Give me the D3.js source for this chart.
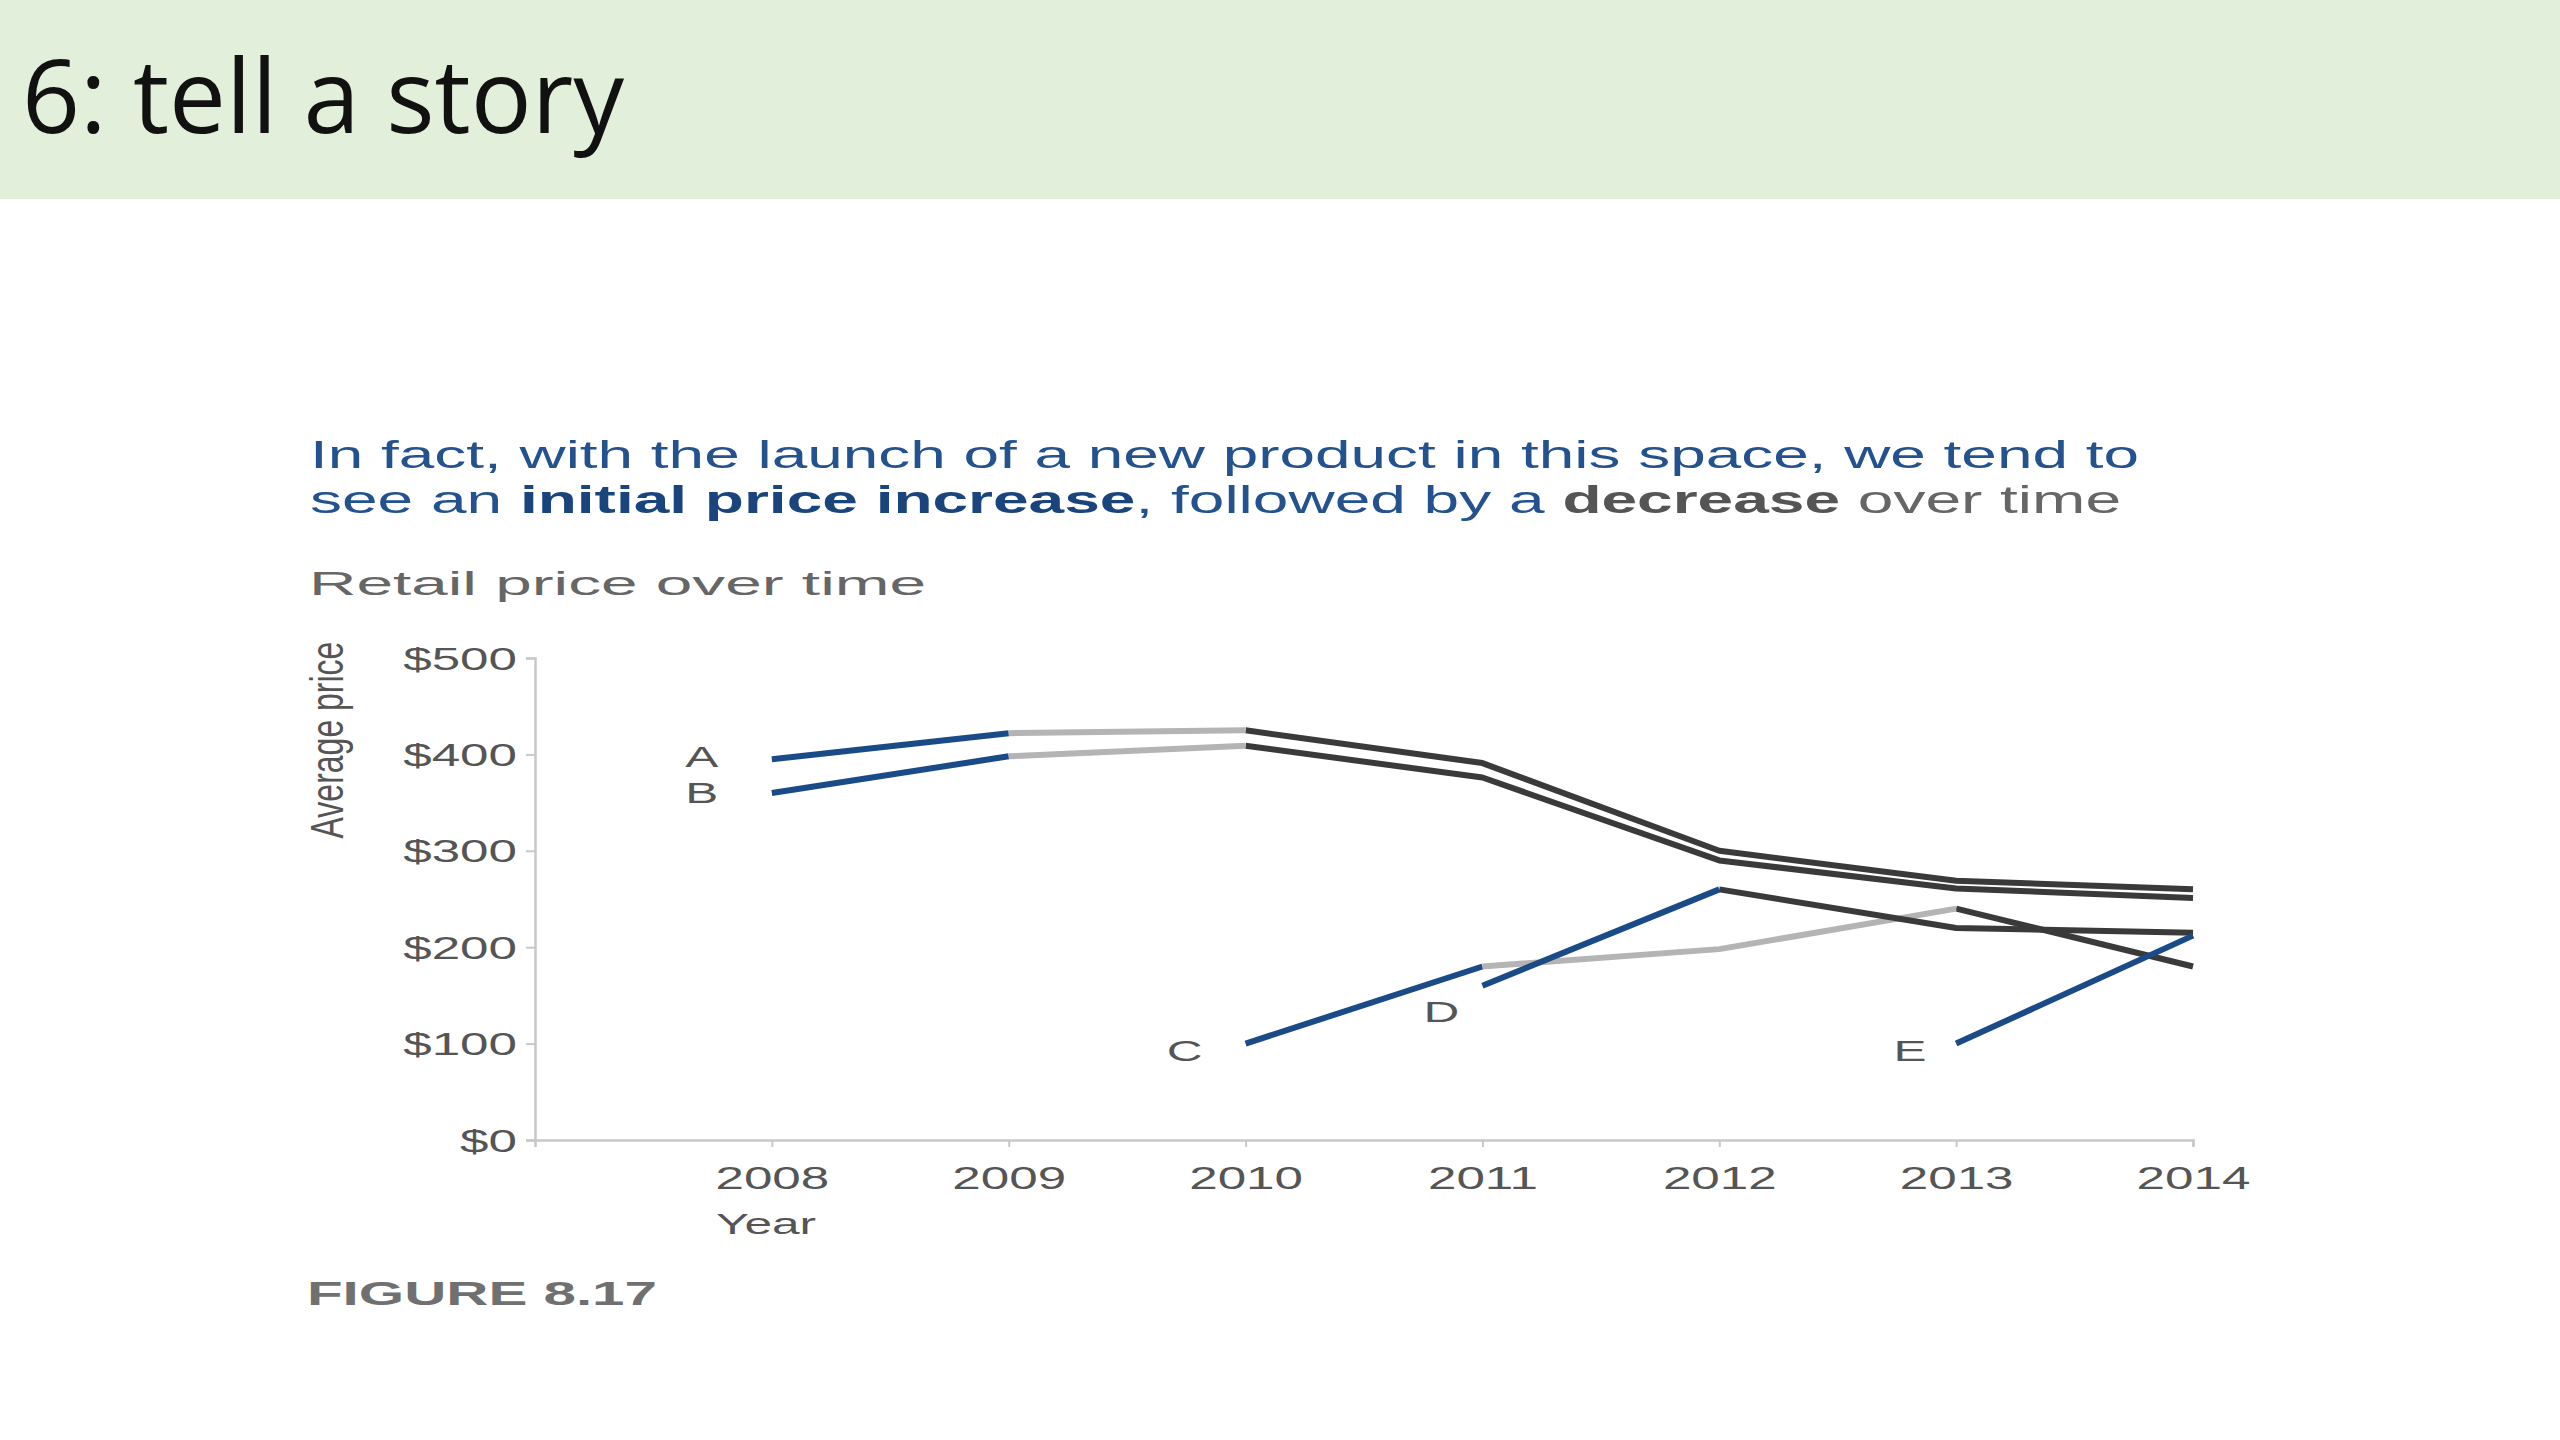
<!DOCTYPE html>
<html>
<head>
<meta charset="utf-8">
<script src="https://cdn.jsdelivr.net/npm/d3@7"></script>
<style>
  body { margin: 0; background: #fff; }
  svg { display: block; }
  text { font-family: "Liberation Sans", Arial, sans-serif; }
</style>
</head>
<body>
<script>
  // ---- data ----
  const years = [2008, 2009, 2010, 2011, 2012, 2013, 2014];
  const products = ['A', 'B', 'C', 'D', 'E'];

  const priceA = [395, 422, 425, 391, 300, 269, 260];
  const priceB = [360, 398, 409, 376, 290, 261, 251];
  const priceC = [null, null, 100, 180, 198, 240, 180];
  const priceD = [null, null, null, 160, 260, 220, 215];
  const priceE = [null, null, null, null, null, 100, 212];

  // phase of each year-to-year segment
  const phaseA = ['up', 'peak', 'down', 'down', 'down', 'down'];
  const phaseB = ['up', 'peak', 'down', 'down', 'down', 'down'];
  const phaseC = [null, null, 'up', 'peak', 'peak', 'down'];
  const phaseD = [null, null, null, 'up', 'down', 'down'];
  const phaseE = [null, null, null, null, null, 'up'];

  const yTicks = [0, 100, 200, 300, 400, 500];

  const prices = { A: priceA, B: priceB, C: priceC, D: priceD, E: priceE };
  const phases = { A: phaseA, B: phaseB, C: phaseC, D: phaseD, E: phaseE };

  // ---- styling ----
  const W = 2560, H = 1440;
  const STRETCH = 1.65; // the figure's type is drawn wide
  const colors = { up: '#1b4b86', peak: '#b4b4b4', down: '#3a3a3a' };
  const labelOffset = { A: [-70, -3], B: [-70, -1], C: [-61, 7], D: [-41, 25], E: [-46, 7] };

  const svg = d3.select('body').append('svg').attr('width', W).attr('height', H);

  function widen(sel, k) {
    sel.each(function () {
      const w = this.getComputedTextLength();
      d3.select(this).attr('textLength', w * k).attr('lengthAdjust', 'spacingAndGlyphs');
    });
  }

  // slide header
  svg.append('rect').attr('width', W).attr('height', 199).attr('fill', '#e2efda');
  svg.append('text').attr('x', 22).attr('y', 133)
    .style('font-family', '"Open Sans", "Noto Sans", sans-serif')
    .attr('font-size', 102).attr('fill', '#111')
    .attr('textLength', 602).attr('lengthAdjust', 'spacingAndGlyphs')
    .text('6: tell a story');

  // headline
  svg.append('text').attr('x', 310).attr('y', 468)
    .attr('font-size', 38).attr('fill', '#23528e')
    .attr('textLength', 1829).attr('lengthAdjust', 'spacingAndGlyphs')
    .text('In fact, with the launch of a new product in this space, we tend to');

  const head2 = svg.append('text').attr('x', 310).attr('y', 513)
    .attr('font-size', 38).attr('fill', '#23528e')
    .attr('textLength', 1811).attr('lengthAdjust', 'spacingAndGlyphs');
  head2.append('tspan').text('see an ');
  head2.append('tspan').attr('font-weight', 'bold').attr('fill', '#1a447c').text('initial price increase');
  head2.append('tspan').text(', followed by a ');
  head2.append('tspan').attr('font-weight', 'bold').attr('fill', '#555').text('decrease');
  head2.append('tspan').attr('fill', '#666').text(' over time');

  svg.append('text').attr('x', 309).attr('y', 595)
    .attr('font-size', 34).attr('fill', '#666')
    .attr('textLength', 617).attr('lengthAdjust', 'spacingAndGlyphs')
    .text('Retail price over time');

  // scales
  const x = d3.scaleLinear().domain([2007, 2014]).range([535, 2193]);
  const y = d3.scaleLinear().domain([0, 500]).range([1140, 658]);

  // axes
  const xAxis = svg.append('g').attr('transform', `translate(0,${y(0)})`)
    .call(d3.axisBottom(x).tickValues(years).tickFormat(d3.format('d'))
      .tickSize(7).tickSizeOuter(7).tickPadding(18));
  const yAxis = svg.append('g').attr('transform', `translate(${x(2007)},0)`)
    .call(d3.axisLeft(y).tickValues(yTicks).tickFormat(d => '$' + d)
      .tickSize(9).tickSizeOuter(9).tickPadding(9));

  [xAxis, yAxis].forEach(g => {
    g.select('.domain').attr('stroke', '#c8c8c8').attr('stroke-width', 2.5);
    g.selectAll('.tick line').attr('stroke', '#c8c8c8').attr('stroke-width', 2);
    g.selectAll('.tick text').attr('font-size', 31).attr('fill', '#555')
      .style('font-family', '"Liberation Sans", Arial, sans-serif');
    widen(g.selectAll('.tick text'), STRETCH);
  });
  xAxis.selectAll('.tick text').attr('dy', '0.76em');
  yAxis.selectAll('.tick text').attr('dy', '0.36em');

  const yearLabel = svg.append('text').attr('x', 716).attr('y', 1234)
    .attr('font-size', 30).attr('fill', '#555').text('Year');
  widen(yearLabel, STRETCH);

  svg.append('text')
    .attr('transform', `translate(343,740) scale(1.45,1) rotate(-90)`)
    .attr('text-anchor', 'middle').attr('font-size', 32).attr('fill', '#555')
    .text('Average price');

  // lines: one path per run of segments that share a phase
  const line = d3.line().x(d => x(d.year)).y(d => y(d.value));
  products.forEach(p => {
    const vals = prices[p], ph = phases[p];
    const runs = [];
    ph.forEach((phase, i) => {
      if (!phase) return;
      const a = { year: years[i], value: vals[i] };
      const b = { year: years[i + 1], value: vals[i + 1] };
      const last = runs[runs.length - 1];
      if (last && last.phase === phase && last.end === i) {
        last.pts.push(b); last.end = i + 1;
      } else {
        runs.push({ phase, pts: [a, b], end: i + 1 });
      }
    });
    // dark runs first so the coloured starts sit on top
    runs.sort((r1, r2) => (r1.phase === 'down' ? -1 : 0) - (r2.phase === 'down' ? -1 : 0));
    runs.forEach(r => {
      svg.append('path').attr('d', line(r.pts))
        .attr('fill', 'none').attr('stroke', colors[r.phase])
        .attr('stroke-width', 6).attr('stroke-linejoin', 'round');
    });
  });

  // product labels beside each line's first point
  products.forEach(p => {
    const i = prices[p].findIndex(v => v != null);
    const off = labelOffset[p];
    const t = svg.append('text')
      .attr('x', x(years[i]) + off[0]).attr('y', y(prices[p][i]) + off[1])
      .attr('dy', '0.36em').attr('text-anchor', 'middle')
      .attr('font-size', 30).attr('fill', '#555').text(p);
    widen(t, STRETCH);
  });

  svg.append('text').attr('x', 307).attr('y', 1305)
    .attr('font-size', 33).attr('font-weight', 'bold').attr('fill', '#707070')
    .attr('textLength', 350).attr('lengthAdjust', 'spacingAndGlyphs')
    .text('FIGURE 8.17');
</script>
</body>
</html>
